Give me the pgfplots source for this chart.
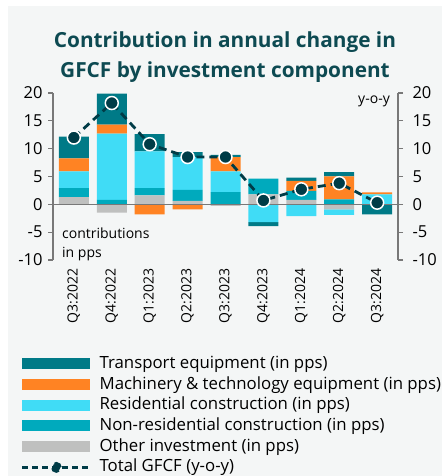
\documentclass[border=0pt]{standalone}
\usepackage{pgfplots}
\pgfplotsset{compat=1.18}
\usepackage{pgfplotstable}
\usepackage{fontspec}
\setmainfont{Open Sans}

\definecolor{tra}{RGB}{0,122,135}
\definecolor{mac}{RGB}{255,131,35}
\definecolor{res}{RGB}{64,220,246}
\definecolor{non}{RGB}{0,170,189}
\definecolor{oth}{RGB}{191,192,191}
\definecolor{linec}{RGB}{0,60,71}
\definecolor{titlec}{RGB}{13,74,82}
\definecolor{bg}{RGB}{244,246,246}
\definecolor{axgray}{RGB}{120,120,120}

% positive parts of the contributions (pps)
\pgfplotstableread{
q oth non res mac tra
0 1.3 1.6 3.0  2.35 3.9
1 0.0 0.8 11.9 1.6  5.6
2 1.6 1.3 6.6  0.0  3.1
3 0.6 2.0 5.9  0.0  0.9
4 0.0 2.2 3.7  2.6  0.4
5 1.8 2.8 0.0  0.0  0.0
6 0.8 1.6 0.0  1.8  0.6
7 0.0 0.9 0.0  4.1  0.8
8 0.0 0.0 1.8  0.35 0.0
}\pos

% negative parts
\pgfplotstableread{
q oth non res mac tra
0 0.0  0 0.0  0.0  0.0
1 -1.5 0 0.0  0.0  0.0
2 0.0  0 0.0  -1.8 0.0
3 0.0  0 0.0  -0.9 0.0
4 -0.3 0 0.0  0.0  0.0
5 0.0  0 -3.2 0.0  -0.7
6 0.0  0 -2.1 0.0  0.0
7 -0.9 0 -1.0 0.0  0.0
8 0.0  0 0.0  0.0  -1.8
}\neg

% total GFCF y-o-y
\pgfplotstableread{
q tot
0 12.0
1 18.2
2 10.8
3 8.5
4 8.5
5 0.7
6 2.7
7 3.8
8 0.3
}\tot

\pgfplotsset{
  base/.style={scale only axis, width=345pt, height=167pt,
    at={(53pt,216pt)}, anchor=south west,
    xmin=-0.55, xmax=8.55, ymin=-10, ymax=20, clip=false},
  swatch/.style={legend image code/.code={\fill[##1, draw=none] (0pt,-5.5pt) rectangle (68pt,5.5pt);}},
  lineleg/.style={legend image code/.code={%
    \draw[linec, line width=2.5pt, dash pattern=on 6pt off 4pt] (0pt,0pt) -- (68pt,0pt);
    \fill[linec] (34pt,0pt) circle (4pt);}},
}

\begin{document}
\begin{tikzpicture}
\useasboundingbox (0,0) rectangle (442pt,476pt);
\fill[white] (0,0) rectangle (442pt,476pt);
\fill[bg] (8pt,0) rectangle (442pt,470pt);
\node[align=center, font=\fontsize{20.8}{30}\selectfont\bfseries, text=titlec]
  at (225pt,419pt) {Contribution in annual change in\\GFCF by investment component};
\node[anchor=north west, align=left, font=\fontsize{14}{18.5}\selectfont, inner sep=0pt]
  at (62pt,248pt) {contributions\\in pps};
\node[anchor=east, font=\fontsize{14}{16}\selectfont, inner sep=0pt] at (390pt,375pt) {y-o-y};

% positive stacks, x labels, left axis
\begin{axis}[base, ybar stacked, bar width=30pt,
  axis x line=bottom, x axis line style={draw=none},
  axis y line=left, y axis line style={draw=axgray, line width=1.3pt, -},
  ytick={-10,-5,...,20}, tick align=outside, major tick length=5pt,
  ytick style={axgray, line width=1.3pt},
  xtick={0,...,8}, xtick style={draw=none},
  xticklabels={Q3:2022,Q4:2022,Q1:2023,Q2:2023,Q3:2023,Q4:2023,Q1:2024,Q2:2024,Q3:2024},
  xticklabel style={rotate=90, anchor=east, font=\fontsize{14}{16}\selectfont},
  yticklabel style={font=\fontsize{16.5}{17}\selectfont, xshift=-2pt},
  /pgf/number format/assume math mode=true]
\addplot[fill=oth, draw=none] table[x=q,y=oth]{\pos};
\addplot[fill=non, draw=none] table[x=q,y=non]{\pos};
\addplot[fill=res, draw=none] table[x=q,y=res]{\pos};
\addplot[fill=mac, draw=none] table[x=q,y=mac]{\pos};
\addplot[fill=tra, draw=none] table[x=q,y=tra]{\pos};
\end{axis}

% negative stacks
\begin{axis}[base, ybar stacked, bar width=30pt, hide axis]
\addplot[fill=oth, draw=none] table[x=q,y=oth]{\neg};
\addplot[fill=non, draw=none] table[x=q,y=non]{\neg};
\addplot[fill=res, draw=none] table[x=q,y=res]{\neg};
\addplot[fill=mac, draw=none] table[x=q,y=mac]{\neg};
\addplot[fill=tra, draw=none] table[x=q,y=tra]{\neg};
\end{axis}

% right axis, zero line, total line, legend
\begin{axis}[base,
  axis x line=none,
  axis y line=right, y axis line style={draw=axgray, line width=1.3pt, -},
  ytick={-10,-5,...,20}, tick align=outside, major tick length=5pt,
  ytick style={axgray, line width=1.3pt},
  yticklabel style={font=\fontsize{16.5}{17}\selectfont, anchor=west, xshift=6pt},
  /pgf/number format/assume math mode=true,
  legend style={at={(-0.093,-0.57)}, anchor=north west, draw=none, fill=none,
    inner sep=0pt, font=\fontsize{16.8}{17}\selectfont, row sep=3.7pt, column sep=8pt,
    nodes={inner sep=0pt, text height=13pt, text depth=4pt}},
  legend cell align=left]
\draw[axgray, line width=1.3pt] (axis cs:-0.55,0) -- (axis cs:8.55,0);
\addlegendimage{swatch, fill=tra}
\addlegendentry{Transport equipment (in pps)}
\addlegendimage{swatch, fill=mac}
\addlegendentry{Machinery \& technology equipment (in pps)}
\addlegendimage{swatch, fill=res}
\addlegendentry{Residential construction (in pps)}
\addlegendimage{swatch, fill=non}
\addlegendentry{Non-residential construction (in pps)}
\addlegendimage{swatch, fill=oth}
\addlegendentry{Other investment (in pps)}
\addplot[lineleg, linec, line width=2.8pt, dash pattern=on 8pt off 5pt,
  mark=*, mark size=6.5pt, mark options={solid, fill=linec, draw=white, line width=1.5pt}]
  table[x=q,y=tot]{\tot};
\addlegendentry{Total GFCF (y-o-y)}
\end{axis}
\end{tikzpicture}
\end{document}
